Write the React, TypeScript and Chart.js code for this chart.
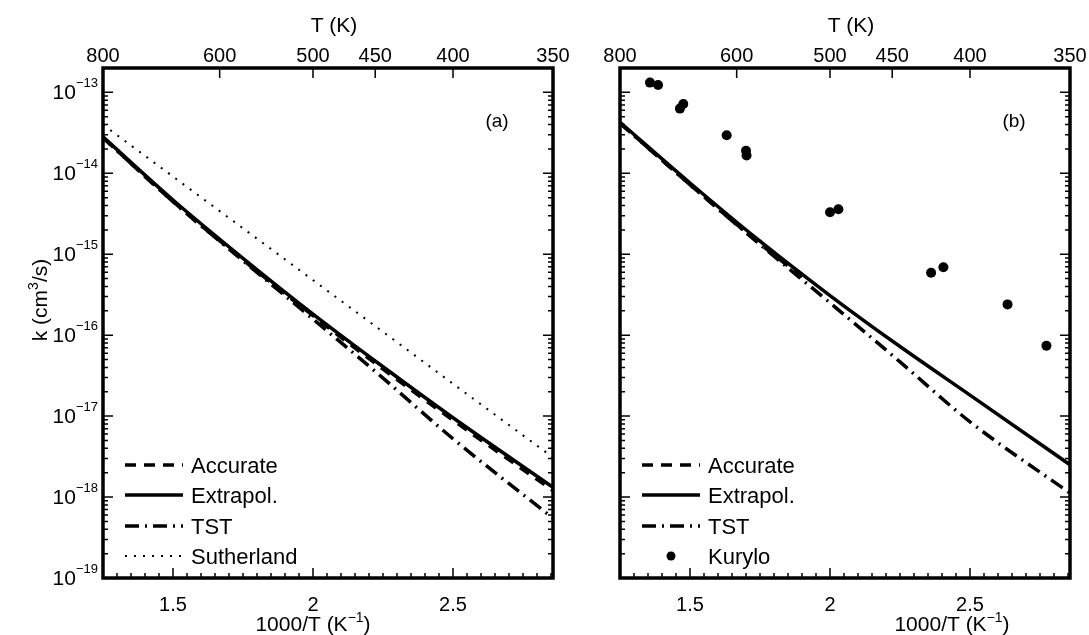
import React, { useEffect, useRef } from "react";
import { Chart, registerables } from "chart.js";

Chart.register(...registerables);

const FONT = '"Liberation Sans", Arial, Helvetica, sans-serif';

// ---- data (x = 1000/T in 1/K, y = k in cm^3/s) ----
const invT = [1.25, 1.5, 1.75, 2.0, 2.25, 2.5, 2.857];
const accurateA = [2.75e-14, 4.47e-15, 8.51e-16, 1.74e-16, 3.8e-17, 8.9e-18, 1.2e-18];
const extrapolA = [2.82e-14, 4.68e-15, 8.91e-16, 1.82e-16, 4.07e-17, 9.55e-18, 1.32e-18];
const tstA = [2.75e-14, 4.47e-15, 8.32e-16, 1.58e-16, 2.95e-17, 5.25e-18, 5.5e-19];
const sutherlandA = [3.98e-14, 9.12e-15, 2.09e-15, 4.79e-16, 1.1e-16, 2.51e-17, 3.09e-18];

const invTAccB = [1.25, 1.5, 1.75, 1.9];
const accurateB = [4.17e-14, 7.24e-15, 1.35e-15, 5.25e-16];
const extrapolB = [4.27e-14, 7.59e-15, 1.45e-15, 3.09e-16, 7.24e-17, 1.82e-17, 2.51e-18];
const tstB = [4.17e-14, 7.24e-15, 1.32e-15, 2.51e-16, 4.68e-17, 8.51e-18, 1.12e-18];

const kuryloX = [1.357, 1.386, 1.464, 1.476, 1.631, 1.7, 1.702, 2.0, 2.03, 2.361, 2.405, 2.634, 2.773];
const kuryloK = [1.32e-13, 1.23e-13, 6.3e-14, 7.2e-14, 2.95e-14, 1.9e-14, 1.66e-14, 3.3e-15, 3.6e-15, 5.9e-16, 6.9e-16, 2.4e-16, 7.4e-17];

const topTLabels = [800, 600, 500, 450, 400, 350];
const bottomTickLabels = [1.5, 2, 2.5];
const yDecades = [-19, -18, -17, -16, -15, -14, -13];

const X_MIN = 1000 / 800;
const X_MAX = 1000 / 350;
const Y_MIN = 1e-19;
const Y_MAX = 2e-13;

const DASH = [11, 8];
const DASHDOT = [14, 6, 2, 6];
const DOT = [2, 7];

type Part = { t: string; sup?: boolean };

function drawParts(ctx: CanvasRenderingContext2D, parts: Part[], x: number, y: number, size: number, align: "left" | "center" | "right") {
  const supSize = Math.round(size * 0.65);
  const fontN = `${size}px ${FONT}`;
  const fontS = `${supSize}px ${FONT}`;
  let total = 0;
  const widths = parts.map((p) => {
    ctx.font = p.sup ? fontS : fontN;
    const w = ctx.measureText(p.t).width;
    total += w;
    return w;
  });
  let cx = align === "left" ? x : align === "center" ? x - total / 2 : x - total;
  ctx.textAlign = "left";
  ctx.textBaseline = "alphabetic";
  parts.forEach((p, i) => {
    ctx.font = p.sup ? fontS : fontN;
    ctx.fillText(p.t, cx, p.sup ? y - size * 0.45 : y);
    cx += widths[i];
  });
}

type LegendEntry = { label: string; dash?: number[]; width?: number; marker?: boolean };

type PanelCfg = {
  tag: string;
  showYLabels: boolean;
  topTitleX: number;
  bottomTitleX: number;
  legend: LegendEntry[];
};

function decoPlugin(cfg: PanelCfg) {
  return {
    id: "panelDeco",
    afterDatasetsDraw(chart: any) {
      const ctx: CanvasRenderingContext2D = chart.ctx;
      const xs = chart.scales.x;
      const ys = chart.scales.y;
      const { left, right, top, bottom } = chart.chartArea;
      ctx.save();
      ctx.strokeStyle = "#000";
      ctx.fillStyle = "#000";
      ctx.setLineDash([]);

      // ticks
      ctx.lineWidth = 1.5;
      ctx.beginPath();
      for (let i = 26; i <= 57; i++) {
        const v = i / 20;
        const px = xs.getPixelForValue(v);
        const len = i % 10 === 0 ? 10 : 5;
        ctx.moveTo(px, bottom);
        ctx.lineTo(px, bottom - len);
      }
      topTLabels.forEach((T) => {
        const px = xs.getPixelForValue(1000 / T);
        if (px > left + 2 && px < right - 2) {
          ctx.moveTo(px, top);
          ctx.lineTo(px, top + 10);
        }
      });
      yDecades.forEach((e) => {
        for (let m = 1; m <= 9; m++) {
          const v = m * Math.pow(10, e);
          if (v <= Y_MIN * 1.0001 || v >= Y_MAX * 0.9999) continue;
          const py = ys.getPixelForValue(v);
          const len = m === 1 ? 10 : 5;
          ctx.moveTo(left, py);
          ctx.lineTo(left + len, py);
          ctx.moveTo(right, py);
          ctx.lineTo(right - len, py);
        }
      });
      ctx.stroke();

      // frame
      ctx.lineWidth = 3.5;
      ctx.strokeRect(left, top, right - left, bottom - top);

      // bottom tick labels
      ctx.font = `20px ${FONT}`;
      ctx.textAlign = "center";
      ctx.textBaseline = "alphabetic";
      bottomTickLabels.forEach((v) => {
        ctx.fillText(String(v), xs.getPixelForValue(v), 611);
      });
      // top tick labels
      topTLabels.forEach((T) => {
        ctx.fillText(String(T), xs.getPixelForValue(1000 / T), 62);
      });

      // y labels
      if (cfg.showYLabels) {
        yDecades.forEach((e) => {
          const py = ys.getPixelForValue(Math.pow(10, e));
          ctx.font = `13px ${FONT}`;
          ctx.textAlign = "right";
          const supTxt = "\u2212" + String(-e);
          const sw = ctx.measureText(supTxt).width;
          ctx.fillText(supTxt, left - 5, py - 5);
          ctx.font = `21px ${FONT}`;
          ctx.fillText("10", left - 5 - sw, py + 7);
        });
        ctx.save();
        ctx.translate(40, 300);
        ctx.rotate(-Math.PI / 2);
        drawParts(ctx, [{ t: "k (cm" }, { t: "3", sup: true }, { t: "/s)" }], 0, 7, 21, "center");
        ctx.restore();
      }

      // axis titles
      drawParts(ctx, [{ t: "T (K)" }], cfg.topTitleX, 32, 21, "center");
      drawParts(ctx, [{ t: "1000/T (K" }, { t: "\u22121", sup: true }, { t: ")" }], cfg.bottomTitleX, 631, 21, "center");

      // panel tag
      ctx.font = `19px ${FONT}`;
      ctx.textAlign = "center";
      ctx.fillText(cfg.tag, right - 56, 127);

      // legend
      const rows = [465, 495, 526, 556];
      const sx0 = left + 22;
      const sx1 = left + 80;
      cfg.legend.forEach((ent, i) => {
        const cy = rows[i];
        if (ent.marker) {
          ctx.beginPath();
          ctx.arc((sx0 + sx1) / 2, cy, 4.5, 0, Math.PI * 2);
          ctx.fill();
        } else {
          ctx.beginPath();
          ctx.lineWidth = ent.width ?? 3.5;
          ctx.setLineDash(ent.dash ?? []);
          ctx.moveTo(sx0, cy);
          ctx.lineTo(sx1, cy);
          ctx.stroke();
          ctx.setLineDash([]);
        }
        ctx.font = `22px ${FONT}`;
        ctx.textAlign = "left";
        ctx.fillText(ent.label, left + 88, cy + 8);
      });

      ctx.restore();
    },
  };
}

function series(xs: number[], ys: number[]) {
  return xs.map((x, i) => ({ x, y: ys[i] }));
}

function lineDs(label: string, xs: number[], ys: number[], dash: number[], width: number, order: number) {
  return {
    label,
    data: series(xs, ys),
    borderColor: "#000",
    backgroundColor: "#000",
    borderWidth: width,
    borderDash: dash,
    pointRadius: 0,
    fill: false,
    cubicInterpolationMode: "monotone",
    order,
  };
}

function Panel({ leftPos, width, pad, datasets, cfg }: any) {
  const ref = useRef<HTMLCanvasElement>(null);
  useEffect(() => {
    if (!ref.current) return;
    const chart = new Chart(ref.current, {
      type: "line",
      data: { datasets },
      options: {
        animation: false,
        responsive: false,
        devicePixelRatio: 1,
        events: [],
        layout: { padding: pad },
        plugins: { legend: { display: false }, tooltip: { enabled: false } },
        scales: {
          x: { type: "linear", min: X_MIN, max: X_MAX, display: false },
          y: { type: "logarithmic", min: Y_MIN, max: Y_MAX, display: false },
        },
      },
      plugins: [decoPlugin(cfg)],
    } as any);
    return () => chart.destroy();
  }, []);
  return (
    <div style={{ position: "absolute", left: leftPos, top: 0, width, height: 635 }}>
      <canvas ref={ref} width={width} height={635} style={{ display: "block" }} />
    </div>
  );
}

export default function App() {
  const dsA = [
    lineDs("Accurate", invT, accurateA, DASH, 3.5, 1),
    lineDs("Extrapol.", invT, extrapolA, [], 3.5, 2),
    lineDs("TST", invT, tstA, DASHDOT, 3.5, 3),
    lineDs("Sutherland", invT, sutherlandA, DOT, 2, 4),
  ];
  const dsB = [
    lineDs("Accurate", invTAccB, accurateB, DASH, 3.5, 1),
    lineDs("Extrapol.", invT, extrapolB, [], 3.5, 2),
    lineDs("TST", invT, tstB, DASHDOT, 3.5, 3),
    {
      label: "Kurylo",
      data: series(kuryloX, kuryloK),
      showLine: false,
      pointRadius: 5,
      pointBackgroundColor: "#000",
      pointBorderColor: "#000",
      pointBorderWidth: 0,
      borderColor: "#000",
      order: 0,
    },
  ];
  const cfgA: PanelCfg = {
    tag: "(a)",
    showYLabels: true,
    topTitleX: 334,
    bottomTitleX: 313,
    legend: [
      { label: "Accurate", dash: DASH, width: 3.5 },
      { label: "Extrapol.", width: 3.5 },
      { label: "TST", dash: DASHDOT, width: 3.5 },
      { label: "Sutherland", dash: DOT, width: 2 },
    ],
  };
  const cfgB: PanelCfg = {
    tag: "(b)",
    showYLabels: false,
    topTitleX: 851 - 575,
    bottomTitleX: 952 - 575,
    legend: [
      { label: "Accurate", dash: DASH, width: 3.5 },
      { label: "Extrapol.", width: 3.5 },
      { label: "TST", dash: DASHDOT, width: 3.5 },
      { label: "Kurylo", marker: true },
    ],
  };
  return (
    <div style={{ position: "absolute", left: 0, top: 0, width: 1089, height: 635, background: "#fff", overflow: "hidden" }}>
      <Panel leftPos={0} width={575} pad={{ left: 103, right: 22, top: 68, bottom: 57 }} datasets={dsA} cfg={cfgA} />
      <Panel leftPos={575} width={514} pad={{ left: 45, right: 19, top: 68, bottom: 57 }} datasets={dsB} cfg={cfgB} />
    </div>
  );
}
